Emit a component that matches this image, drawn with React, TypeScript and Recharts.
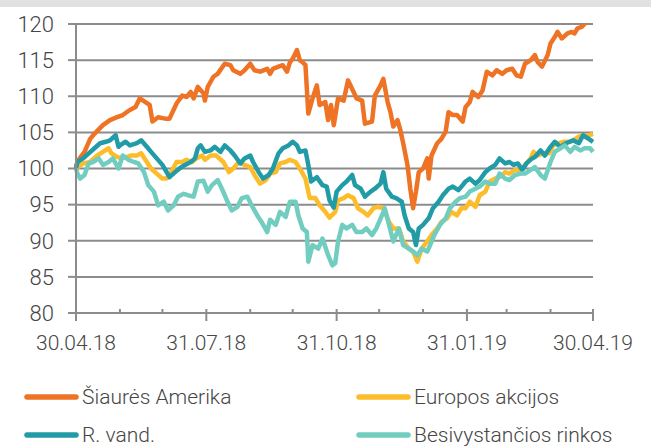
import React from "react";
import { LineChart, Line, XAxis, YAxis, CartesianGrid } from "recharts";

// [days since 30.04.18, index value]
const siauresAmerika: [number, number][] = [
  [0, 100], [1, 101], [6, 102.3], [10, 104.1], [13, 104.8], [19, 106], [24, 106.7], [29, 107.1],
  [33, 107.4], [38, 108.1], [42, 108.5], [45, 109.7], [49, 109.2], [52, 108.8], [54, 106.5],
  [58, 107.1], [63, 106.9], [66, 106.9], [71, 109], [75, 110.1], [78, 109.9], [81, 110.6],
  [83, 109.7], [86, 111.3], [90, 110.4], [91, 109.4], [93, 111.3], [97, 112.7], [100, 113.1],
  [105, 114.5], [109, 114.3], [111, 113.6], [116, 113.1], [119, 113.6], [123, 114.5], [126, 113.6],
  [130, 113.4], [135, 113.8], [137, 113.1], [139, 113.8], [143, 114.1], [146, 114.3], [149, 113.4],
  [151, 114.7], [153, 115.2], [156, 116.4], [158, 115], [160, 114.7], [162, 114.3], [164, 107.6],
  [167, 109.7], [170, 111.5], [172, 108.8], [176, 109.2], [178, 106.7], [180, 108.8], [182, 106],
  [185, 109.7], [189, 109.4], [192, 112.2], [196, 110.6], [198, 109.7], [202, 109.4], [204, 106.2],
  [209, 106.5], [211, 110.1], [215, 111.5], [217, 112.4], [220, 109.2], [222, 107.8], [224, 105.8],
  [227, 106.7], [229, 105.3], [231, 103.5], [234, 100.5], [236, 97.2], [238, 94.5], [240, 96.8],
  [242, 99.5], [245, 100], [248, 101.4], [249, 98.6], [251, 101.8], [255, 103.5], [258, 104.1],
  [261, 105.1], [263, 107.8], [266, 107.4], [269, 107.4], [273, 106.5], [275, 108.5], [278, 109.2],
  [280, 110.6], [284, 109.9], [287, 110.8], [290, 113.4], [294, 112.9], [297, 113.6], [301, 113.1],
  [304, 113.6], [308, 113.8], [311, 112.9], [314, 112.7], [317, 114.5], [321, 115], [324, 115.7],
  [326, 114.7], [329, 114.1], [333, 115.7], [335, 117.3], [338, 118.2], [340, 118.9], [343, 118],
  [347, 118.7], [350, 118.9], [352, 118.7], [354, 119.4], [357, 119.6], [359, 120], [362, 120.4],
  [365, 120.8],
];

const europosAkcijos: [number, number][] = [
  [0, 100], [5, 100.7], [10, 100.9], [15, 101.8], [19, 102.3], [23, 102.8], [25, 102.1], [29, 101.6],
  [32, 101.4], [36, 101.6], [39, 101.8], [43, 101.8], [46, 102.1], [50, 100.9], [53, 100],
  [57, 99.3], [61, 98.6], [64, 98.6], [68, 99.8], [71, 100.9], [75, 100.9], [78, 101.2], [82, 100.9],
  [85, 101.4], [89, 101.8], [91, 101.2], [95, 101.8], [99, 101.8], [104, 100.9], [108, 99.5],
  [111, 100], [115, 100.9], [119, 100.5], [123, 100.2], [126, 99.1], [130, 97.9], [134, 98.4],
  [137, 99.3], [141, 99.5], [144, 100.7], [148, 100.9], [151, 101.2], [155, 100.9], [158, 100],
  [162, 98.6], [165, 95.9], [169, 95.9], [172, 94.9], [176, 94], [179, 93.2], [183, 94], [185, 95.6],
  [189, 95.9], [192, 96.3], [196, 95.9], [199, 94.5], [203, 94], [206, 93.5], [210, 94.5],
  [213, 94.7], [217, 94.5], [221, 92.6], [224, 91.7], [228, 91.7], [231, 89.9], [235, 88.9],
  [238, 88.5], [241, 87.1], [244, 88.9], [248, 89.9], [251, 90.8], [255, 91.7], [258, 92.6],
  [262, 93.1], [265, 94], [269, 93.5], [272, 94.5], [275, 94.5], [278, 95.4], [282, 94.7],
  [285, 96.3], [289, 96.8], [292, 98.2], [296, 98.6], [299, 98.8], [303, 99.5], [306, 99.3],
  [310, 99.8], [314, 99.8], [317, 100.5], [321, 101.4], [323, 102.3], [326, 101.8], [330, 102.1],
  [334, 102.1], [337, 103.2], [341, 103.5], [344, 103.7], [348, 103.7], [351, 103.9], [355, 104.4],
  [358, 104.6], [362, 104.6], [365, 104.8],
];

const rVand: [number, number][] = [
  [0, 100], [1, 100.9], [5, 101.4], [9, 102.1], [13, 102.8], [17, 103.5], [21, 103.7], [24, 103.9],
  [28, 104.6], [30, 103], [31, 103.2], [35, 103.7], [38, 103.2], [43, 103.5], [46, 103.9], [50, 103],
  [53, 102.3], [57, 101.4], [61, 100.5], [64, 99.5], [66, 98.8], [70, 99.5], [73, 100], [77, 100.5],
  [81, 100.9], [84, 101.4], [86, 102.8], [88, 103.2], [91, 102.3], [95, 102.5], [98, 103],
  [102, 102.3], [105, 103.2], [109, 102.5], [112, 101.8], [116, 100.7], [119, 101.4], [123, 101.8],
  [125, 100.9], [129, 99.5], [132, 98.6], [136, 99.1], [139, 100], [143, 102.1], [146, 102.8],
  [150, 103.2], [153, 103.7], [156, 103.2], [158, 102.3], [162, 102.5], [164, 100.5], [166, 98.2],
  [170, 98.8], [174, 97.7], [177, 97.5], [179, 95.6], [182, 94.6], [184, 96.8], [188, 97.7],
  [191, 98.2], [195, 99.1], [197, 97.7], [201, 97.2], [204, 96.1], [208, 96.8], [211, 97.2],
  [215, 97.9], [217, 99.5], [219, 97.2], [223, 96.1], [226, 95.9], [230, 95.4], [232, 93.5],
  [235, 91.7], [238, 91.2], [240, 89.4], [242, 91.7], [245, 92.2], [249, 93.1], [252, 94.5],
  [256, 95.4], [259, 96.3], [263, 97.2], [266, 97.5], [270, 97], [273, 97.7], [275, 98.2],
  [278, 98.6], [282, 97.9], [285, 98.4], [289, 99.5], [292, 100], [296, 100.5], [299, 101.4],
  [303, 100.7], [306, 100.9], [309, 100.5], [312, 100.7], [315, 99.8], [318, 100.7], [322, 101.4],
  [324, 101.6], [328, 102.5], [331, 101.8], [335, 103], [338, 103.7], [342, 103], [346, 103.5],
  [351, 103.9], [355, 103.5], [358, 104.6], [362, 104.1], [365, 103.7],
];

const besivystanciosRinkos: [number, number][] = [
  [0, 100], [1, 99.3], [3, 98.6], [6, 99.1], [9, 100.7], [12, 100.9], [16, 101.4], [19, 100.5],
  [23, 100.9], [26, 101.4], [30, 100], [33, 101.8], [37, 101.2], [41, 100.9], [44, 100.7],
  [48, 99.5], [51, 97.7], [55, 96.8], [58, 94.9], [62, 95.4], [65, 94.2], [69, 94.9], [72, 96.1],
  [76, 96.5], [79, 96.3], [83, 96.1], [86, 98.2], [90, 98.3], [93, 96.8], [96, 97.7], [100, 98.4],
  [103, 97.2], [107, 95.4], [110, 94.2], [114, 94.7], [117, 95.9], [121, 96.1], [124, 94.9],
  [128, 93.5], [131, 92.6], [135, 91.2], [137, 92.9], [141, 92.2], [144, 94], [148, 93.3],
  [151, 95.4], [155, 95.4], [157, 93.5], [160, 91.7], [163, 91.2], [164, 87.1], [167, 89.4],
  [171, 88.9], [174, 90.3], [178, 88], [181, 86.6], [183, 86.9], [185, 89.9], [188, 92.2],
  [191, 91.7], [195, 92.2], [198, 91.2], [202, 91.2], [205, 91.7], [209, 90.8], [212, 91.7],
  [216, 93.5], [218, 94.5], [221, 92.2], [224, 89.9], [228, 91.7], [231, 89.4], [235, 88.9],
  [238, 88.5], [241, 88], [244, 88.9], [248, 88.5], [250, 89.4], [253, 90.8], [257, 92.2],
  [261, 93.1], [264, 94.5], [268, 95.4], [271, 95.9], [275, 96.1], [278, 96.8], [282, 97.2],
  [285, 97.5], [289, 98.2], [292, 97.9], [296, 97.9], [299, 99.3], [303, 98.6], [306, 98.4],
  [310, 99.1], [314, 99.3], [317, 99.3], [321, 99.8], [324, 100.2], [328, 99.1], [331, 98.6],
  [335, 100.9], [338, 102.3], [342, 102.8], [345, 103.2], [349, 102.3], [352, 103], [356, 102.5],
  [359, 102.8], [363, 102.8], [365, 102.3],
];

const monthTicks = [0, 31, 61, 92, 123, 153, 184, 214, 245, 276, 304, 335, 365];
const tickLabels: Record<number, string> = {
  0: "30.04.18",
  92: "31.07.18",
  184: "31.10.18",
  276: "31.01.19",
  365: "30.04.19",
};
const yTicks = [80, 85, 90, 95, 100, 105, 110, 115, 120];

const series = [
  { name: "Šiaurės Amerika", data: siauresAmerika, color: "#ef7324" },
  { name: "Europos akcijos", data: europosAkcijos, color: "#fdbd2b" },
  { name: "R. vand.", data: rVand, color: "#219ba6" },
  { name: "Besivystančios rinkos", data: besivystanciosRinkos, color: "#70cdbf" },
];

const axisColor = "#8c8c8c";
const textColor = "#464646";
const font = "Roboto, sans-serif";

const XTick = (props: any) => {
  const { x, y, payload } = props;
  const label = tickLabels[payload.value];
  return (
    <g>
      <line x1={x} x2={x} y1={y - 4} y2={label ? y + 8 : y} stroke={axisColor} strokeWidth={2} />
      {label && (
        <text x={x} y={y + 37} textAnchor="middle" fill={textColor} fontSize={21} fontFamily={font} fontWeight={300}>
          {label}
        </text>
      )}
    </g>
  );
};

const YTick = (props: any) => {
  const { x, y, payload } = props;
  return (
    <g>
      <line x1={x - 8} x2={x} y1={y} y2={y} stroke={axisColor} strokeWidth={2} />
      <text x={x - 22} y={y} dy="0.355em" textAnchor="end" fill={textColor} fontSize={22} fontFamily={font} fontWeight={300}>
        {payload.value}
      </text>
    </g>
  );
};

const legendPos = [
  { x: 25, y: 397 },
  { x: 357, y: 397 },
  { x: 25, y: 435 },
  { x: 357, y: 435 },
];

export default function App() {
  return (
    <div style={{ position: "absolute", left: 0, top: 0, width: 651, height: 446, background: "#fff", overflow: "hidden" }}>
      <div style={{ position: "absolute", left: 0, top: 0, width: 651, height: 7, background: "#e1e1e1" }} />
      <div style={{ position: "absolute", left: 0, top: 0 }}>
        <LineChart width={651} height={360} margin={{ top: 24, right: 58, left: 0, bottom: 0 }}>
          <CartesianGrid vertical={false} stroke={axisColor} strokeWidth={2} />
          <XAxis
            type="number"
            dataKey="d"
            domain={[0, 365]}
            ticks={monthTicks}
            interval={0}
            height={47}
            tickSize={0}
            tickMargin={0}
            tickLine={false}
            axisLine={{ stroke: axisColor, strokeWidth: 2 }}
            tick={<XTick />}
          />
          <YAxis
            type="number"
            domain={[80, 120]}
            ticks={yTicks}
            allowDataOverflow
            width={76}
            tickSize={0}
            tickMargin={0}
            tickLine={false}
            axisLine={{ stroke: axisColor, strokeWidth: 2 }}
            tick={<YTick />}
          />
          {series.map((s) => (
            <Line
              key={s.name}
              name={s.name}
              data={s.data.map(([d, v]) => ({ d, v }))}
              dataKey="v"
              stroke={s.color}
              strokeWidth={4.5}
              strokeLinejoin="round"
              dot={false}
              activeDot={false}
              isAnimationActive={false}
            />
          ))}
        </LineChart>
      </div>
      <svg style={{ position: "absolute", left: 0, top: 370 }} width={651} height={76}>
        {series.map((s, i) => {
          const p = legendPos[i];
          const y = p.y - 370;
          return (
            <g key={s.name}>
              <line x1={p.x + 2} x2={p.x + 51} y1={y} y2={y} stroke={s.color} strokeWidth={5.5} strokeLinecap="round" />
              <text x={p.x + 57} y={y + 7} fill={textColor} fontSize={21} fontFamily={font} fontWeight={300}>
                {s.name}
              </text>
            </g>
          );
        })}
      </svg>
    </div>
  );
}
